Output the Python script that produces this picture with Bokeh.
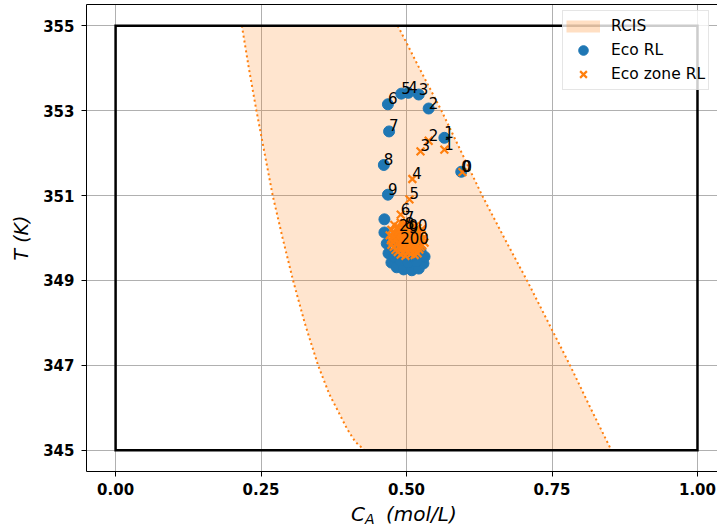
import math
from bokeh.plotting import figure
from bokeh.layouts import column
from bokeh.models import Range1d, FixedTicker, NumeralTickFormatter, LinearAxis, Div
from bokeh.core.properties import value
from bokeh.embed import file_html
from bokeh.resources import INLINE

# State constraints of the reactor (box)
CA_BOUNDS = [0.0, 1.0]
T_BOUNDS = [345.0, 355.0]

# RCIS boundary: concentration on each side at given temperatures
RCIS_LEFT_T = [355, 354, 353, 352, 351, 350, 349, 348, 347, 346.33, 345.5, 345.2, 345]
RCIS_LEFT_CA = [0.217, 0.229, 0.242, 0.256, 0.270, 0.287, 0.305, 0.325, 0.348, 0.367, 0.398, 0.412, 0.428]
RCIS_RIGHT_T = [355, 354, 353, 352, 351, 350, 349, 348, 347, 346, 345]
RCIS_RIGHT_CA = [0.485, 0.522, 0.560, 0.595, 0.630, 0.668, 0.707, 0.744, 0.781, 0.816, 0.852]

# Closed-loop trajectory of the economic RL controller (steps 0..9, tail, step 200)
ECO_RL_CA = [0.594, 0.565, 0.538, 0.521, 0.503, 0.491, 0.468, 0.470, 0.461, 0.468,
             0.462, 0.462, 0.466, 0.469, 0.474, 0.483, 0.495, 0.509, 0.521, 0.529,
             0.531, 0.524, 0.514, 0.500, 0.486, 0.479, 0.490, 0.503, 0.517, 0.510,
             0.496, 0.481, 0.507, 0.489]
ECO_RL_T = [351.56, 352.36, 353.05, 353.38, 353.42, 353.40, 353.15, 352.51, 351.72, 351.02,
            350.44, 350.13, 349.87, 349.64, 349.42, 349.31, 349.26, 349.24, 349.28, 349.40,
            349.56, 349.71, 349.80, 349.78, 349.71, 349.56, 349.47, 349.42, 349.45, 349.59,
            349.61, 349.94, 349.99, 349.87]

# Closed-loop trajectory of the economic zone RL controller
ECO_ZONE_RL_CA = [0.596, 0.565, 0.538, 0.524, 0.510, 0.505, 0.490, 0.497, 0.497, 0.504,
                  0.479, 0.490, 0.498, 0.507, 0.515,
                  0.485, 0.493, 0.502, 0.510, 0.519,
                  0.474, 0.483, 0.491, 0.502, 0.510, 0.519, 0.526,
                  0.478, 0.486, 0.495, 0.503, 0.512, 0.521,
                  0.471, 0.479, 0.490, 0.498, 0.507, 0.517, 0.526,
                  0.476, 0.485, 0.493, 0.502, 0.512, 0.521, 0.529,
                  0.473, 0.481, 0.491, 0.500, 0.509, 0.517, 0.526,
                  0.476, 0.485, 0.495, 0.503, 0.512, 0.522, 0.531,
                  0.474, 0.485, 0.493, 0.502, 0.510, 0.519, 0.527,
                  0.478, 0.488, 0.497, 0.505, 0.514, 0.524,
                  0.481, 0.490, 0.498, 0.507, 0.515, 0.522,
                  0.485, 0.493, 0.502, 0.510, 0.519,
                  0.490, 0.498, 0.507, 0.514,
                  0.487]
ECO_ZONE_RL_T = [351.55, 352.08, 352.29, 352.04, 351.39, 350.91, 350.55, 350.35, 350.22, 350.12,
                 350.31, 350.36, 350.30, 350.33, 350.28,
                 350.26, 350.24, 350.27, 350.25, 350.23,
                 350.19, 350.22, 350.17, 350.21, 350.18, 350.15, 350.20,
                 350.14, 350.12, 350.15, 350.13, 350.11, 350.14,
                 350.06, 350.10, 350.07, 350.04, 350.09, 350.05, 350.08,
                 350.02, 350.00, 350.03, 350.01, 349.99, 350.02, 350.00,
                 349.95, 349.98, 349.93, 349.97, 349.94, 349.99, 349.96,
                 349.91, 349.89, 349.92, 349.90, 349.88, 349.91, 349.89,
                 349.84, 349.87, 349.83, 349.86, 349.82, 349.85, 349.83,
                 349.79, 349.77, 349.80, 349.78, 349.76, 349.79,
                 349.72, 349.75, 349.71, 349.74, 349.70, 349.73,
                 349.67, 349.65, 349.68, 349.66, 349.64,
                 349.61, 349.58, 349.62, 349.60,
                 350.16]

STEP_TAGS = [str(i) for i in range(10)]
FINAL_TAG = "200"

X_TICKS = [0.0, 0.25, 0.5, 0.75, 1.0]
Y_TICKS = [345, 347, 349, 351, 353, 355]

BLUE = "#1f77b4"
ORANGE = "#ff7f0e"
FONT = "DejaVu Sans"

W = 717
PLOT_H = 503
LABEL_H = 26
LEFT, TOP, BOTTOM = 86, 4, 32
x0, x1 = -0.05, 1.0344
y0, y1 = 344.5, 355.5

p = figure(width=W, height=PLOT_H, x_range=Range1d(x0, x1), y_range=Range1d(y0, y1),
           output_backend="svg", toolbar_location=None,
           min_border_left=LEFT, min_border_right=0, min_border_top=TOP,
           min_border_bottom=BOTTOM)
p.outline_line_color = None
p.background_fill_color = "white"

# axes
for ax in (p.xaxis, p.yaxis):
    ax.axis_line_color = "black"
    ax.axis_line_width = 1
    ax.major_tick_in = 0
    ax.major_tick_out = 5
    ax.major_tick_line_color = "black"
    ax.minor_tick_line_color = None
    ax.major_label_text_font = FONT
    ax.major_label_text_font_style = "bold"
    ax.major_label_text_font_size = "15px"
    ax.major_label_text_color = "black"

p.xaxis.ticker = FixedTicker(ticks=X_TICKS)
p.xaxis.formatter = NumeralTickFormatter(format="0.00")
p.xaxis.major_label_standoff = 6
p.yaxis.ticker = FixedTicker(ticks=Y_TICKS)
p.yaxis.formatter = NumeralTickFormatter(format="0")
p.yaxis.major_label_standoff = 7
p.yaxis.axis_label = "T (K)"
p.yaxis.axis_label_text_font = FONT
p.yaxis.axis_label_text_font_style = "italic"
p.yaxis.axis_label_text_font_size = "19px"
p.yaxis.axis_label_text_color = "black"
p.yaxis.axis_label_standoff = 8

top_axis = LinearAxis(ticker=FixedTicker(ticks=[]), major_tick_out=0, major_tick_in=0,
                      minor_tick_out=0, minor_tick_in=0, major_label_standoff=0,
                      axis_line_color="black", axis_line_width=1)
p.add_layout(top_axis, "above")

p.xgrid.ticker = FixedTicker(ticks=X_TICKS)
p.ygrid.ticker = FixedTicker(ticks=Y_TICKS)
p.grid.grid_line_color = "#b0b0b0"
p.grid.grid_line_width = 1

# RCIS region; its legend swatch comes from a wide line entry without visible points
poly_x = RCIS_LEFT_CA + RCIS_RIGHT_CA[::-1]
poly_y = RCIS_LEFT_T + RCIS_RIGHT_T[::-1]
p.patch(poly_x, poly_y, fill_color=ORANGE, fill_alpha=0.2, line_color=None)
p.line(x=[math.nan], y=[math.nan], line_color=ORANGE, line_alpha=0.25, line_width=12,
       legend_label="RCIS")
p.line(RCIS_LEFT_CA, RCIS_LEFT_T, line_color=ORANGE, line_width=2, line_dash="2 3")
p.line(RCIS_RIGHT_CA, RCIS_RIGHT_T, line_color=ORANGE, line_width=2, line_dash="2 3")

# state constraint box
p.quad(left=CA_BOUNDS[0], right=CA_BOUNDS[1], bottom=T_BOUNDS[0], top=T_BOUNDS[1],
       fill_color=None, line_color="black", line_width=2.5, line_join="miter")

# trajectories
p.scatter(ECO_RL_CA, ECO_RL_T, marker="circle", size=11, fill_color=BLUE,
          line_color=BLUE, legend_label="Eco RL")
p.scatter(ECO_ZONE_RL_CA, ECO_ZONE_RL_T, marker="x", size=11, line_color=ORANGE,
          line_width=2.2, legend_label="Eco zone RL")

# step annotations
for ca, t in ((ECO_RL_CA, ECO_RL_T), (ECO_ZONE_RL_CA, ECO_ZONE_RL_T)):
    p.text(x=ca[:10] + [ca[-1]], y=t[:10] + [t[-1]], text=STEP_TAGS + [FINAL_TAG],
           text_font=value(FONT), text_font_size="15px", text_color="black",
           text_align="left", text_baseline="bottom")

# legend
lg = p.legend[0]
lg.location = (476, 381)
lg.label_text_font = FONT
lg.label_text_font_size = "15.5px"
lg.label_text_color = "black"
lg.glyph_width = 34
lg.glyph_height = 24
lg.label_height = 18
lg.label_standoff = 11
lg.spacing = 0
lg.padding = 3
lg.margin = 0
lg.border_line_color = "#cccccc"
lg.border_line_width = 1
lg.background_fill_color = "white"
lg.background_fill_alpha = 0.8

# x axis label with subscript: C_A (mol/L)
span = "position:absolute; font-family:'DejaVu Sans'; font-style:italic; line-height:1; white-space:nowrap;"
xlabel_html = (
    f'<div style="position:relative; width:{W}px; height:{LABEL_H}px;">'
    f'<span style="{span} left:351px; top:1px; font-size:20px;">C</span>'
    f'<span style="{span} left:365px; top:9px; font-size:14px;">A</span>'
    f'<span style="{span} left:386px; top:1px; font-size:20px;">(mol/L)</span>'
    '</div>'
)
xlabel = Div(text=xlabel_html, width=W, height=LABEL_H, margin=0)

layout = column(p, xlabel, spacing=0, margin=0)
open("out.html", "w").write(file_html(layout, INLINE))
